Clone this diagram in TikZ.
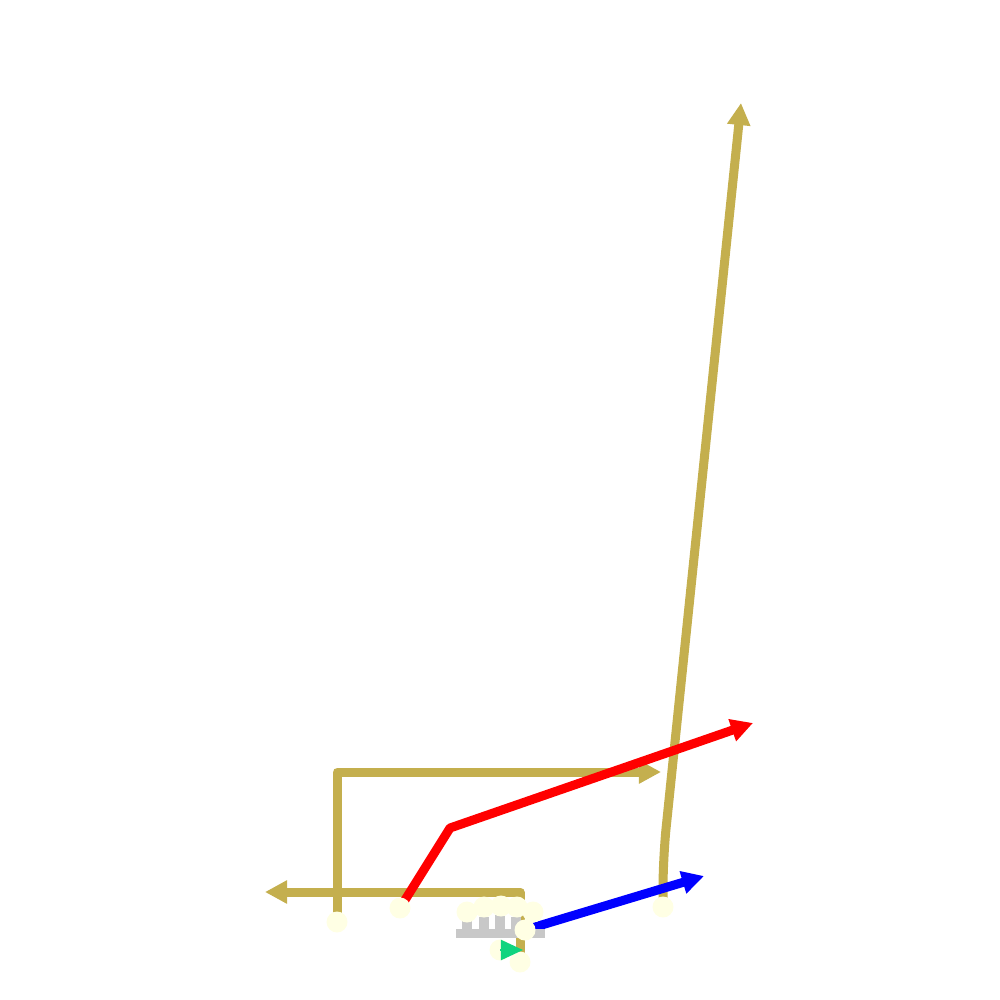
\documentclass[tikz,border=0pt]{standalone}
\usetikzlibrary{arrows.meta}
\definecolor{gold}{HTML}{C4AF4E}
\definecolor{dotc}{HTML}{FFFFE4}
\definecolor{grayc}{HTML}{C8C8C8}
\definecolor{greenc}{HTML}{10D47F}
\begin{document}
\begin{tikzpicture}[x=0.01cm,y=-0.01cm,
  path/.style={line width=0.09cm,line join=round,-{Triangle[length=0.22cm,width=0.22cm]}},
  dot/.style={circle,fill=dotc,inner sep=0pt,minimum size=0.21cm}]
\useasboundingbox (0,0) rectangle (1000,1000);
% named points
\coordinate (g1s) at (520,962);
\coordinate (g1a) at (520,892);
\coordinate (g1e) at (265,892);
\coordinate (g2s) at (337,922);
\coordinate (g2a) at (337,772);
\coordinate (g2e) at (661,772);
\coordinate (g3s) at (663,907);
\coordinate (g3a) at (663,858);
\coordinate (g3e) at (741,103);
\coordinate (rs) at (400,908);
\coordinate (ra) at (450,828);
\coordinate (re) at (753,723);
\coordinate (bs) at (525,930);
\coordinate (be) at (704,876);
% gold paths
\draw[path,gold] (g2s) -- (g2a) -- (g2e);
\draw[path,gold] (g1s) -- (g1a) -- (g1e);
\draw[path,gold,rounded corners=0.3cm] (g3s) -- (g3a) -- (g3e);
% red
\draw[path,red] (rs) -- (ra) -- (re);
% blue
\draw[path,blue] (bs) -- (be);
% gray comb
\fill[grayc] (456,929) rectangle (545,938);
\fill[grayc] (462,917) rectangle (472,929);
\fill[grayc] (479,917) rectangle (489,929);
\fill[grayc] (495,915) rectangle (505,929);
\fill[grayc] (511,917) rectangle (521,929);
% dots
\node[dot] (d1) at (g2s) {};
\node[dot] (d2) at (rs) {};
\node[dot] (d3) at (g3s) {};
\node[dot] (d4) at (467,912) {};
\node[dot] (d5) at (484,907) {};
\node[dot] (d6) at (501,906) {};
\node[dot] (d7) at (517,907) {};
\node[dot] (d8) at (533,912) {};
\node[dot] (d9) at (bs) {};
\node[dot] (d10) at (500,950) {};
\node[dot] (d11) at (g1s) {};
% green arrow
\coordinate (ge) at (523,950);
\draw[greenc,line width=0.02cm,-{Triangle[length=0.22cm,width=0.2cm]}] (d10.center) -- (ge);
\end{tikzpicture}
\end{document}
